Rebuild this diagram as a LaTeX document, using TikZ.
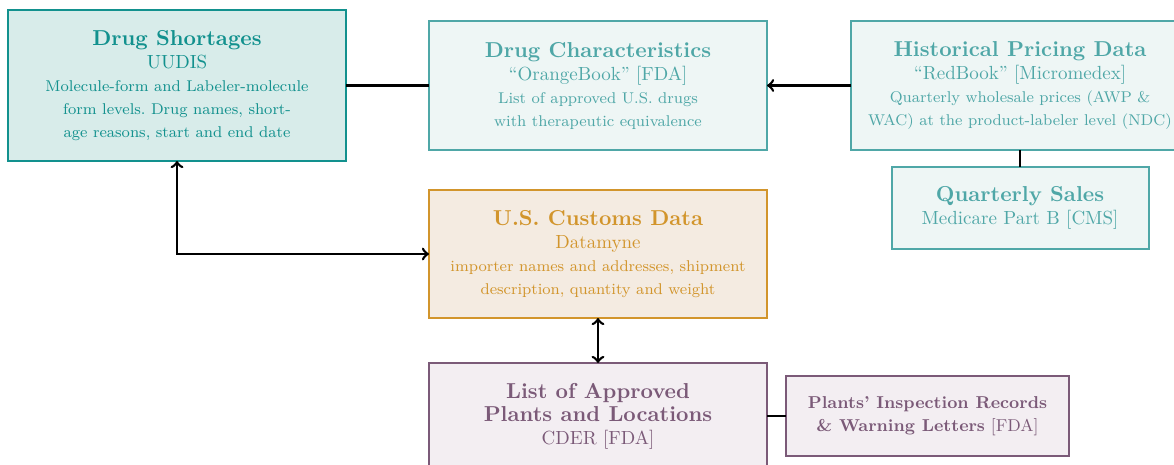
\documentclass[tikz,border=0pt]{standalone}
\usepackage{fontspec}
\usetikzlibrary{positioning}
\definecolor{shortline}{HTML}{12918E}
\definecolor{shortfill}{HTML}{D8ECEA}
\definecolor{tealline}{HTML}{4FA7A7}
\definecolor{tealfill}{HTML}{EEF6F5}
\definecolor{customsline}{HTML}{D2952C}
\definecolor{customsfill}{HTML}{F4EBE1}
\definecolor{plantline}{HTML}{7B5A78}
\definecolor{plantfill}{HTML}{F3EEF2}
\newcommand{\boxtitle}[1]{{\fontsize{10.8}{11.5}\selectfont\bfseries #1}}
\newcommand{\boxnote}[1]{{\fontsize{7.8}{11.5}\selectfont #1}}
\begin{document}
\begin{tikzpicture}[x=0.5pt,y=-0.5pt,
  srcbox/.style={draw,line width=1pt,align=center,inner sep=2pt,outer sep=0pt,
    font=\fontsize{9.5}{11.5}\selectfont},
  shortbox/.style={srcbox,draw=shortline,fill=shortfill,text=shortline},
  tealbox/.style={srcbox,draw=tealline,fill=tealfill,text=tealline},
  customsbox/.style={srcbox,draw=customsline,fill=customsfill,text=customsline},
  plantbox/.style={srcbox,draw=plantline,fill=plantfill,text=plantline},
  link/.style={line width=1.3pt}]
\useasboundingbox (0,0) rectangle (1174,465);
%top row
\node[shortbox,minimum width=169pt,minimum height=75.5pt] (short) at (177,85.5)
  {\boxtitle{Drug Shortages}\\ UUDIS\\
   \boxnote{Molecule-form and Labeler-molecule}\\
   \boxnote{form levels.\ Drug names, short-}\\
   \boxnote{age reasons, start and end date}};
\node[tealbox,minimum width=169pt,minimum height=64.5pt] (chars) at (598,85.5)
  {\boxtitle{Drug Characteristics}\\ ``OrangeBook'' [FDA]\\
   \boxnote{List of approved U.S. drugs}\\
   \boxnote{with therapeutic equivalence}};
\node[tealbox,minimum width=169pt,minimum height=64.5pt] (price) at (1020,85.5)
  {\boxtitle{Historical Pricing Data}\\ ``RedBook'' [Micromedex]\\
   \boxnote{Quarterly wholesale prices (AWP \&}\\
   \boxnote{WAC) at the product-labeler level (NDC)}};
\node[tealbox,minimum width=128.5pt,minimum height=41pt] (sales) at (1020,208)
  {\boxtitle{Quarterly Sales}\\ Medicare Part B [CMS]};
%middle and bottom
\node[customsbox,minimum width=169pt,minimum height=64pt] (customs) at (598,254)
  {\boxtitle{U.S. Customs Data}\\ Datamyne\\
   \boxnote{importer names and addresses, shipment}\\
   \boxnote{description, quantity and weight}};
\node[plantbox,minimum width=169pt,minimum height=53pt] (plants) at (598,416)
  {\boxtitle{List of Approved}\\ \boxtitle{Plants and Locations}\\ CDER [FDA]};
\node[plantbox,minimum width=141.5pt,minimum height=40pt,
  font=\fontsize{8.6}{11.5}\selectfont] (inspect) at (927.5,416)
  {\textbf{Plants' Inspection Records}\\ \textbf{\& Warning Letters} [FDA]};
%links
\draw[link] (short) -- (chars);
\draw[link,->] (price) -- (chars);
\draw[link] (price) -- (sales);
\draw[link,<->] (short.south) |- (customs.west);
\draw[link,<->] (customs) -- (plants);
\draw[link] (plants) -- (inspect);
\end{tikzpicture}
\end{document}
